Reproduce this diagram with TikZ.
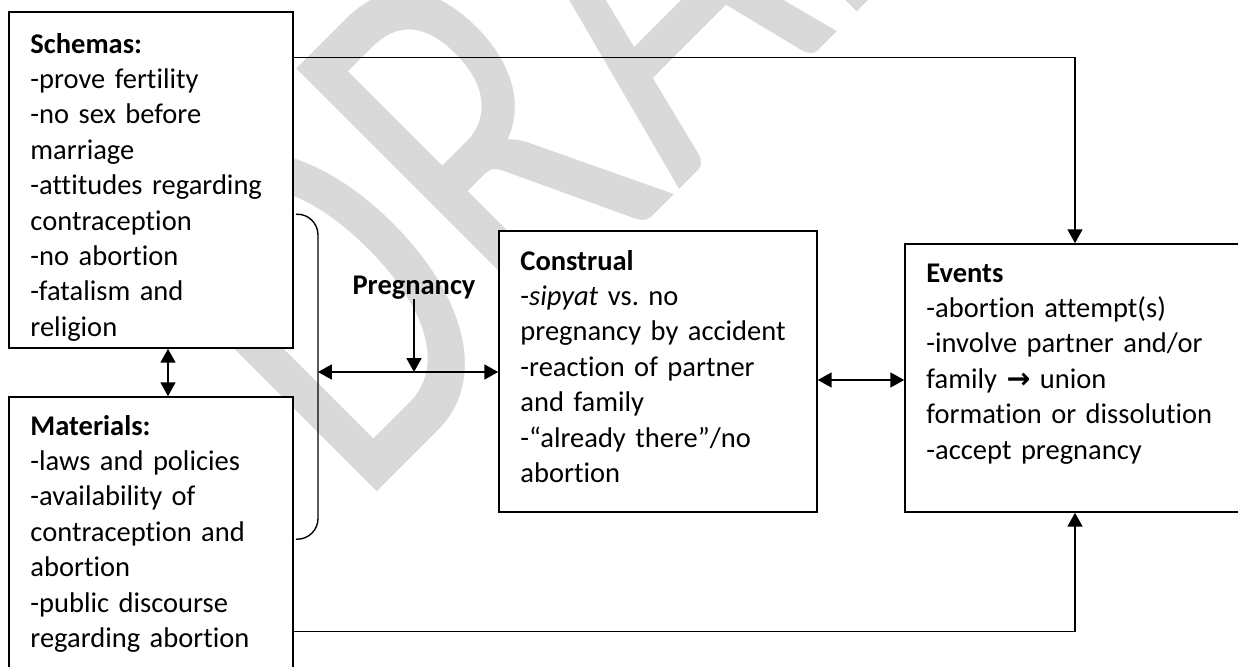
\documentclass[tikz,border=0pt]{standalone}
\usepackage{fontspec}
\setmainfont{Carlito}[Ligatures={TeX,NoCommon}]
\newfontfamily\symfont{DejaVu Sans}
\usetikzlibrary{positioning,calc,arrows.meta}
\newcommand{\pxl}{0.435pt}
\frenchspacing

\tikzset{
  box/.style={draw,fill=white,line width=0.7pt,inner sep=0pt},
  txt/.style={font=\fontsize{12.4}{15.4}\selectfont,align=left,text width=170pt,inner sep=0pt,anchor=base west},
  lbl/.style={font=\fontsize{12.4}{15.4}\selectfont\bfseries,inner sep=0pt},
  arr/.style={line width=0.6pt,-{Triangle[length=6pt,width=6.5pt]}},
  dbl/.style={line width=0.6pt,{Triangle[length=6pt,width=6.5pt]}-{Triangle[length=6pt,width=6.5pt]}},
  wmark/.style={font=\fontsize{170}{170}\selectfont,text=black!15,inner sep=0pt,rotate=45,yscale=1.42,transform shape}
}

\begin{document}
\begin{tikzpicture}[x=0.435pt,y=-0.435pt]
    \useasboundingbox (0,0) rectangle (1238,667);
    \clip (0,0) rectangle (1238,667);

    % Watermark
    \coordinate (wm) at (603,14);
    \node[wmark] (draft) at (wm) {DRAFT};

    % Boxes
    \node[box,minimum width=284*\pxl,minimum height=336*\pxl] (schemas) at (151,180) {};
    \node[box,minimum width=284*\pxl,minimum height=323*\pxl] (materials) at (151,558.5) {};
    \node[box,minimum width=318*\pxl,minimum height=281*\pxl] (construal) at (658,371.5) {};
    \node[box,minimum width=340*\pxl,minimum height=268*\pxl] (events) at (1075,378) {};

    % Box texts
    \node[txt] (schemastxt) at (30,53) {\textbf{Schemas:}\\-prove fertility\\-no sex before\\marriage\\-attitudes regarding\\contraception\\-no abortion\\-fatalism and\\religion};
    \node[txt] (materialstxt) at (30,435) {\textbf{Materials:}\\-laws and policies\\-availability of\\contraception and\\abortion\\-public discourse\\regarding abortion};
    \node[txt] (construaltxt) at (520,270) {\textbf{Construal}\\-\textit{sipyat} vs. no\\pregnancy by accident\\-reaction of partner\\and family\\-“already there”/no\\abortion};
    \node[txt] (eventstxt) at (926,282) {\textbf{Events}\\-abortion attempt(s)\\-involve partner and/or\\family {\symfont\bfseries →} union\\formation or dissolution\\-accept pregnancy};

    % Pregnancy label
    \node[lbl,anchor=base] (preg) at (414,294) {Pregnancy};

    % Bracket round schemas and materials
    \coordinate (bk) at (318,372);
    \draw[line width=0.6pt,rounded corners=9pt] ($(schemas.north east)+(2,203)$) -| (bk) |- ($(materials.north east)+(2,143)$);

    % Connectors
    \draw[dbl] ($(schemas.south)+(17,0)$) -- ($(materials.north)+(17,0)$);
    \draw[dbl] (bk) -- (bk -| construal.west);
    \draw[arr] (preg.south) -- (preg.south |- bk);
    \draw[dbl] ($(construal.east)+(0,8.5)$) -- ($(events.west)+(0,2)$);
    \draw[arr] ($(schemas.north east)+(0,46)$) -| (events.north);
    \draw[arr] ($(materials.north east)+(0,235)$) -| (events.south);
\end{tikzpicture}
\end{document}
